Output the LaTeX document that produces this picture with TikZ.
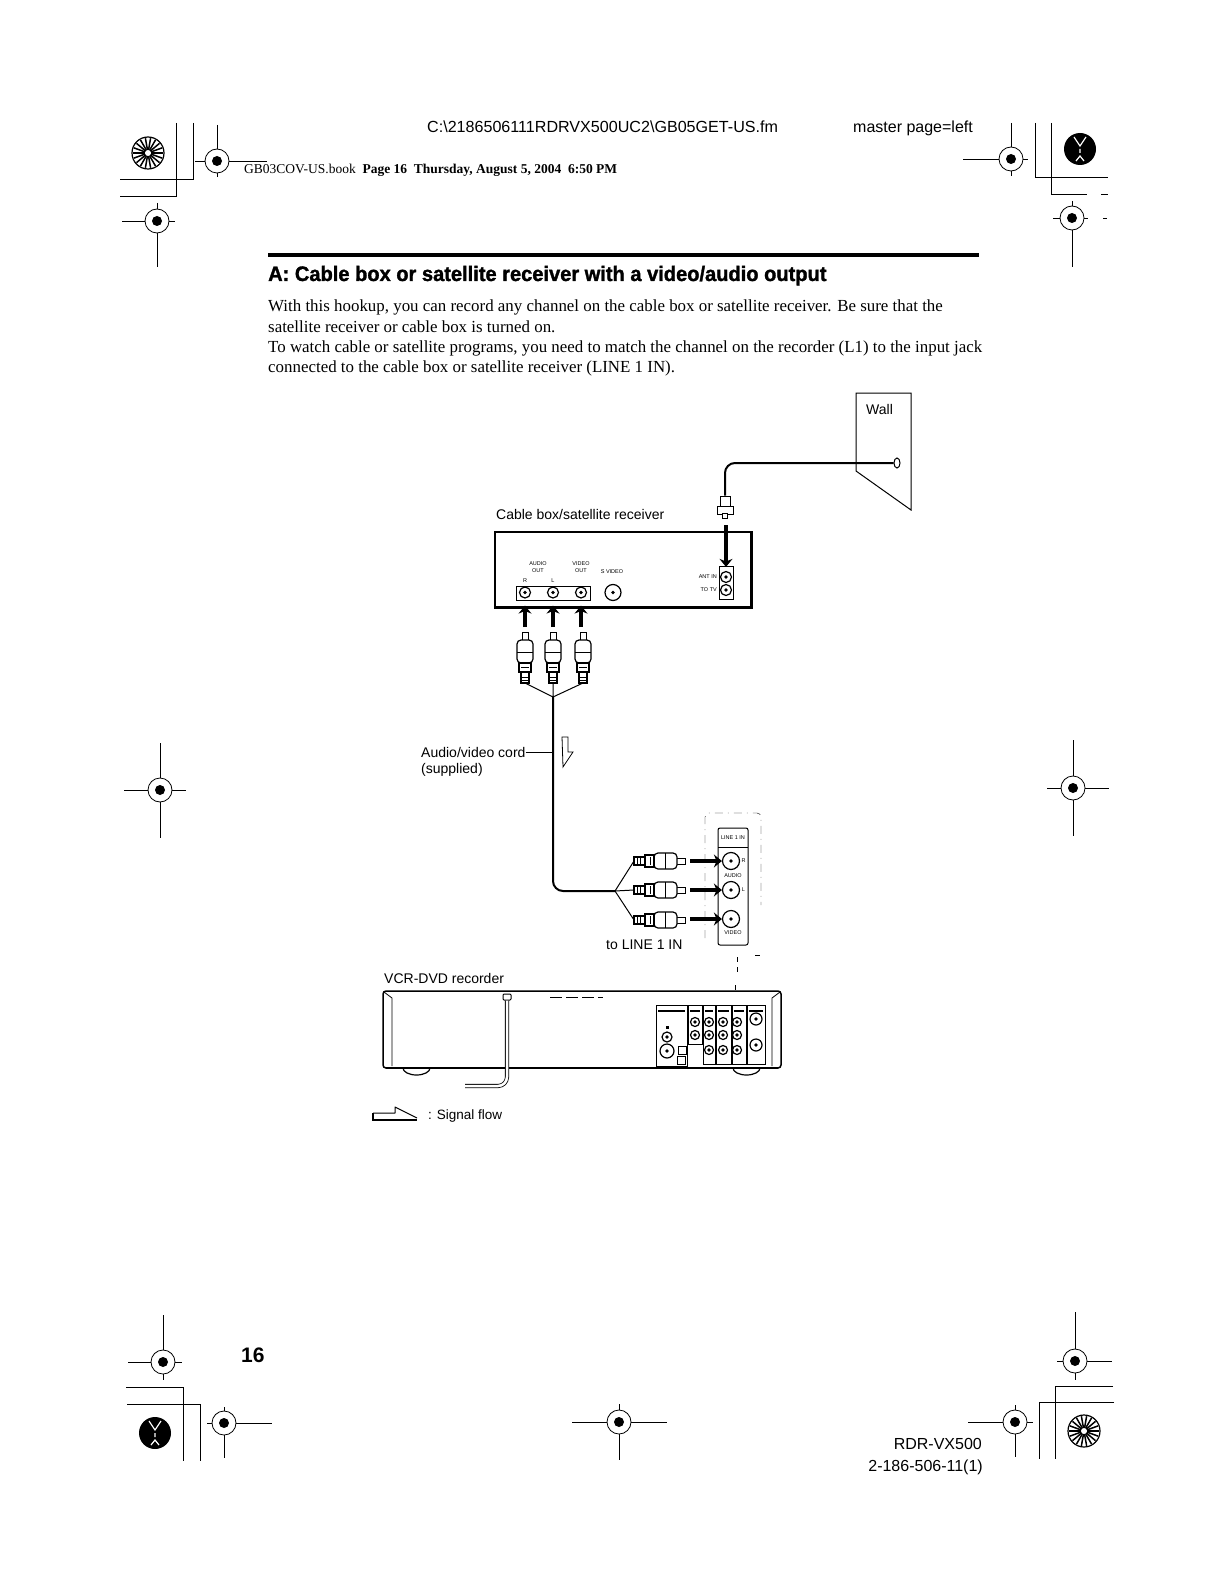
\documentclass[tikz,border=0pt]{standalone}
\usepackage{fontspec}
\setmainfont{Liberation Serif}
\setsansfont{Liberation Sans}
\newfontfamily\titlefont[FakeBold=1.5]{Liberation Sans Bold}
\usetikzlibrary{arrows.meta, shapes.geometric}
\begin{document}
\begin{tikzpicture}[x=1pt, y=-1pt,
    txt/.style={inner sep=0pt, anchor=base west, font=\sffamily\fontsize{14}{16}\selectfont},
    tiny/.style={inner sep=0pt, font=\sffamily\fontsize{5.5}{6.5}\selectfont, align=center},
    regline/.style={line width=0.7pt},
    regcircle/.style={circle, draw, fill=white, line width=0.8pt, minimum size=24pt, inner sep=0pt},
    regdot/.style={circle, fill=black, minimum size=10pt, inner sep=0pt},
    crop/.style={line width=0.9pt},
    jack/.style={circle, draw, fill=white, line width=1.2pt, minimum size=#1, inner sep=0pt,
      path picture={\fill[black] (path picture bounding box.center) circle (1.8pt);}},
    jack/.default=11pt,
    cable/.style={line width=2pt, rounded corners=10pt},
    sigarrow/.style={-{Stealth[length=8pt,width=13pt]}, line width=4.5pt},
    rcaplug/.pic={
      \draw[fill=white] (-3,0) rectangle (3,9);
      \draw[fill=white, rounded corners=4pt, line width=1.2pt] (-8,8) -- (8,8) -- (8,31) -- (-8,31) -- cycle;
      \draw (-8,20) -- (8,20);
      \draw[fill=white, line width=1.2pt] (-6,31) rectangle (6,40);
      \draw[fill=white, line width=1.2pt] (-4,40) rectangle (4,51);
      \draw (-4,35) -- (4,35) (-4,45) -- (4,45) (-4,48) -- (4,48);
      \coordinate (-tail) at (0,51);
    }]
  \useasboundingbox (0,0) rectangle (1221,1578);
  % Header lines
  \node[txt, font=\sffamily\fontsize{16.1}{18}\selectfont] (filepath) at (427,133) {C:\textbackslash 2186506111RDRVX500UC2\textbackslash GB05GET-US.fm};
  \node[txt, font=\sffamily\fontsize{16}{18}\selectfont] (master) at (853,133) {master page=left};
  \node[txt, font=\rmfamily\fontsize{13.5}{16}\selectfont] (bookline) at (244,174) {GB03COV-US.book\ \ \textbf{Page 16\ \ Thursday, August 5, 2004\ \ 6:50 PM}};
  % Registration marks: x, y, left, right, top, bottom
  \foreach \mx/\my/\hl/\hr/\vt/\vb in {217/161/195/267/125/177, 157/221/122/175/203/267,
      1011/159/963/1028/123/176, 1072/218/1053/1088/201/267,
      160/790/124/186/743/838, 1073/788/1047/1109/740/836,
      163/1362/128/182/1315/1380, 224/1423/207/272/1407/1458,
      619/1422/572/667/1404/1460, 1015/1422/968/1033/1405/1457,
      1075/1361/1057/1112/1312/1380} {
    \draw[regline] (\hl,\my) -- (\hr,\my) (\mx,\vt) -- (\mx,\vb);
    \node[regcircle] (ring\mx) at (\mx,\my) {};
    \node[regdot] (dot\mx) at (\mx,\my) {};
  }
  \draw[regline] (1103,218) -- (1107,218);
  % Crop lines
  \draw[crop] (176,123) -- (176,196) -- (120,196);
  \draw[crop] (193,123) -- (193,179) -- (120,179);
  \draw[crop] (1035,123) -- (1035,177) -- (1108,177);
  \draw[crop] (1051,123) -- (1051,194) -- (1087,194) (1101,194) -- (1108,194);
  \draw[crop] (126,1387) -- (183,1387) -- (183,1461);
  \draw[crop] (127,1404) -- (200,1404) -- (200,1461);
  \draw[crop] (1113,1386) -- (1055,1386) -- (1055,1459);
  \draw[crop] (1114,1402) -- (1039,1402) -- (1039,1459);
  % Striped discs
  \foreach \dx/\dy in {148/153, 1084/1431} {
    \node[circle, draw, line width=1.2pt, minimum size=32pt, inner sep=0pt] (disc\dx) at (\dx,\dy) {};
    \foreach \ang in {0,20,...,340}
      \draw[line width=1.5pt] (\dx,\dy) ++(\ang:3) -- ++(\ang:12);
  }
  % Black discs
  \foreach \dx/\dy in {1080/149, 155/1433} {
    \node[circle, fill=black, minimum size=32pt, inner sep=0pt] (disc\dx) at (\dx,\dy) {};
    \draw[white, line width=1.2pt] (\dx-6,\dy-12) -- (\dx,\dy-3) -- (\dx+6,\dy-12) (\dx,\dy) -- (\dx,\dy+4) (\dx-4,\dy+12) -- (\dx,\dy+7) -- (\dx+4,\dy+12);
  }
  % Title and text
  \draw[line width=4pt] (268,255) -- (979,255);
  \node[txt, font=\titlefont\fontsize{21}{23}\selectfont] (title) at (268,281) {\scalebox{0.955}[1]{A: Cable box or satellite receiver with a video/audio output}};
  \node[inner sep=0pt, anchor=north west, align=left, font=\rmfamily\fontsize{16.9}{20.3}\selectfont] (bodytext) at (268,300) {With this hookup, you can record any channel on the cable box or satellite receiver. Be sure that the\\
    satellite receiver or cable box is turned on.\\
    To watch cable or satellite programs, you need to match the channel on the recorder (L1) to the input jack\\
    connected to the cable box or satellite receiver (LINE 1 IN).};
  % Wall and outlet
  \draw[line width=1pt] (856,393) -- (911,393) -- (911,510) -- (856,471) -- cycle;
  \node[txt] (walllabel) at (866,414) {Wall};
  \node[ellipse, draw, fill=white, line width=1pt, minimum width=6pt, minimum height=10pt, inner sep=0pt] (outlet) at (897,463) {};
  \node[draw, fill=white, line width=1pt, minimum width=10pt, minimum height=10pt, inner sep=0pt] (antplug) at (725,501) {};
  \node[draw, fill=white, line width=1pt, minimum width=16pt, minimum height=8pt, inner sep=0pt] (antnut) at (725,510) {};
  \node[draw, fill=white, minimum width=5pt, minimum height=5pt, inner sep=0pt] (anttip) at (725,516) {};
  \draw[cable] (outlet.west) -| (antplug.north);
  % Cable box
  \node[txt] (boxlabel) at (496,519) {Cable box/satellite receiver};
  \node[draw, line width=1.2pt, minimum width=256pt, minimum height=75pt, inner sep=0pt] (cablebox) at (623,569.5) {};
  \draw[line width=2.5pt] (cablebox.north east) -- (cablebox.south east) -- (cablebox.south west);
  \node[draw, line width=1pt, minimum width=74pt, minimum height=14pt, inner sep=0pt] (outpanel) at (553,593) {};
  \node[draw, line width=1pt, minimum width=14pt, minimum height=33pt, inner sep=0pt] (antpanel) at (726,583) {};
  \node[jack] (jackr) at (525,592.5) {};
  \node[jack] (jackl) at (553,592.5) {};
  \node[jack] (jackv) at (581,592.5) {};
  \node[jack=16pt] (jacks) at (613,592.5) {};
  \node[jack] (jackant) at (726,577) {};
  \node[jack] (jacktv) at (726,590) {};
  \node[tiny] (audioout) at (538,567) {AUDIO\\OUT};
  \node[tiny] (videoout) at (581,567) {VIDEO\\OUT};
  \node[tiny] (svideo) at (612,572) {S VIDEO};
  \node[tiny] (labelr) at (525,581) {R};
  \node[tiny] (labell) at (553,581) {L};
  \node[tiny, anchor=east] (antin) at (717,577) {ANT IN};
  \node[tiny, anchor=east] (totv) at (717,590) {TO TV};
  \coordinate (antstart) at (726,525);
  \draw[sigarrow, shorten >=4pt] (antstart) -- (jackant.north);
  % Plugs on the cable box
  \foreach \px/\pname in {525/r, 553/l, 583/v} {
    \pic (up\pname) at (\px,632) {rcaplug};
  }
  \foreach \px/\jname in {525/jackr, 553/jackl, 581/jackv} {
    \coordinate (st\jname) at (\px,627);
    \draw[sigarrow, shorten >=7pt] (st\jname) -- (\jname.south);
  }
  \coordinate (topjoin) at (553,697);
  \draw[line width=1pt] (upr-tail) -- (topjoin) (upv-tail) -- (topjoin) (upl-tail) -- (topjoin);
  % Long cord
  \coordinate (lowjoin) at (615,891);
  \draw[cable] (topjoin) |- (lowjoin);
  % Plugs on the recorder
  \foreach \py/\pname in {861/r, 890/l, 920/v} {
    \pic[rotate=-90] (in\pname) at (685,\py) {rcaplug};
    \draw[line width=1pt] (lowjoin) -- (in\pname-tail);
  }
  % Line 1 in panel
  \draw[line width=1pt, rounded corners=2pt] (718,945) -- (718,828) -- (748,828) -- (748,945) -- cycle;
  \draw[line width=1pt] (718,847) -- (748,847);
  \node[jack=17pt] (liner) at (731,861) {};
  \node[jack=17pt] (linel) at (731,890) {};
  \node[jack=17pt] (linev) at (731,919) {};
  \node[tiny] (linelabel) at (733,838) {LINE 1 IN};
  \node[tiny] (audiolabel) at (733,876) {AUDIO};
  \node[tiny] (videolabel) at (733,933) {VIDEO};
  \node[tiny] (rlabel) at (743.5,861) {R};
  \node[tiny] (llabel) at (743.5,890) {L};
  \foreach \py/\jname in {861/liner, 890/linel, 919/linev} {
    \coordinate (st\jname) at (690,\py);
    \draw[sigarrow] (st\jname) -- (\jname.west);
  }
  \draw[dash pattern=on 8pt off 5pt on 1pt off 5pt, rounded corners=4pt] (705,938) -- (705,813) -- (761,813) -- (761,905);
  \draw[dash pattern=on 5pt off 5pt] (737,957) -- (737,972) (755,955) -- (760,955) (735,985) -- (735,1000);
  \node[txt] (linein) at (606,949) {to LINE 1 IN};
  % Cord label and flow arrow
  \node[txt] (cordlabel) at (421,757) {Audio/video cord};
  \node[txt] (supplied) at (421,773) {(supplied)};
  \coordinate (cordpoint) at (553,752);
  \draw[line width=0.8pt] (cordlabel.east |- cordpoint) -- (cordpoint);
  \draw[line width=0.8pt] (562,737) -- (568,737) -- (568,752) -- (573,752) -- (563,767) -- cycle;
  % Recorder
  \node[txt] (reclabel) at (384,983) {VCR-DVD recorder};
  \draw[line width=1.2pt, fill=white] (403,1068) arc[start angle=180, end angle=360, x radius=13.5pt, y radius=7pt];
  \draw[line width=1.2pt, fill=white] (733,1068) arc[start angle=180, end angle=360, x radius=13.5pt, y radius=7pt];
  \node[draw, fill=white, line width=1.5pt, rounded corners=3pt, minimum width=398pt, minimum height=77pt, inner sep=0pt] (recorder) at (582,1029.5) {};
  \draw[line width=2pt] (386,1068) -- (778,1068);
  \draw[line width=0.8pt] (384,992) -- (392,998) -- (392,1066);
  \draw[line width=0.8pt] (780,992) -- (772,998) -- (772,1066);
  \draw[dash pattern=on 12pt off 4pt] (550,997) -- (603,997);
  \node[draw, fill=white, line width=1pt, rounded corners=1pt, minimum width=8pt, minimum height=6pt, inner sep=0pt] (cordplug) at (507,997) {};
  \coordinate (cordend) at (465,1086);
  \draw[double, double distance=2.5pt, line width=0.8pt, rounded corners=9pt] (cordplug.south) -- (507,1086) -- (cordend);
  % Recorder jack panels: left, right, bottom
  \foreach \pl/\pr/\pb in {656/687/1066, 688/702/1044, 703/715/1064, 716/731/1064, 732/746/1064, 747/765/1064} {
    \draw[line width=0.9pt] (\pl,1005) -- (\pr,1005) -- (\pr,\pb) -- (\pl,\pb) -- cycle;
    \draw[line width=1.5pt] (\pl+2,1011) -- (\pr-2,1011);
  }
  \foreach \jx/\jy in {695/1022, 695/1035, 709/1022, 709/1035, 709/1050, 723/1022, 723/1035, 723/1050, 737/1022, 737/1035, 737/1050}
    \node[jack=9pt] (rec\jx-\jy) at (\jx,\jy) {};
  \node[jack=12pt] (recant) at (756,1019) {};
  \node[jack=12pt] (recout) at (756,1045) {};
  \node[jack=10pt] (recone) at (667,1037) {};
  \node[jack=14pt] (recs) at (667,1051) {};
  \node[fill=black, minimum size=3pt, inner sep=0pt] (recsq) at (667,1027) {};
  \node[draw, minimum size=8pt, inner sep=0pt] (recopt) at (682,1050) {};
  \node[draw, minimum size=8pt, inner sep=0pt] (recopb) at (681,1060) {};
  % Legend
  \draw[line width=1pt, line join=round] (373,1113) -- (395,1113) -- (395,1107) -- (417,1118);
  \draw[line width=2pt] (373,1113) -- (373,1120) -- (417,1120);
  \node[txt, font=\sffamily\fontsize{13.5}{15}\selectfont] (legend) at (428,1119) {: Signal flow};
  % Footer
  \node[txt, font=\sffamily\bfseries\fontsize{21}{24}\selectfont] (pagenum) at (241,1362) {16};
  \node[inner sep=0pt, anchor=base east, font=\sffamily\fontsize{16}{18}\selectfont] (model) at (982,1449) {RDR-VX500};
  \node[inner sep=0pt, anchor=base east, font=\sffamily\fontsize{16}{18}\selectfont] (partno) at (983,1471) {2-186-506-11(1)};
\end{tikzpicture}
\end{document}
